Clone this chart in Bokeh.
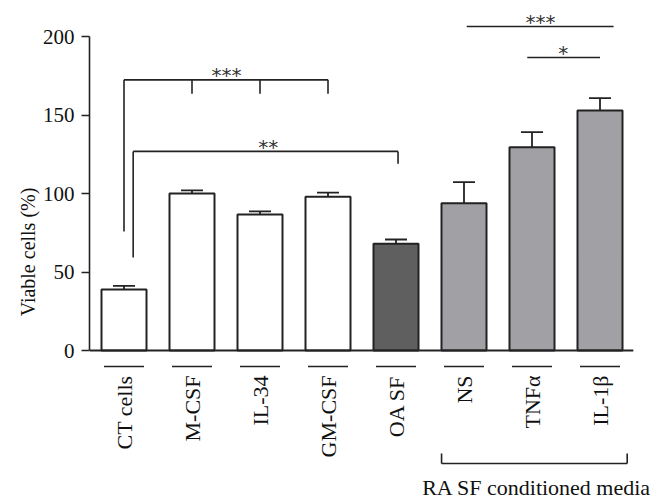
import math
from bokeh.plotting import figure
from bokeh.models import Range1d, FixedTicker, ColumnDataSource
from bokeh.core.properties import value
from bokeh.embed import file_html
from bokeh.resources import INLINE

# ---------------- data ----------------
categories = ["CT cells", "M-CSF", "IL-34", "GM-CSF", "OA SF", "NS", "TNFα", "IL-1β"]
viability = [38.9, 100.0, 86.6, 98.0, 68.0, 93.8, 129.5, 152.9]
sem = [2.3, 2.0, 2.0, 2.5, 2.7, 13.4, 9.6, 7.8]
groups = ["control", "cytokine", "cytokine", "cytokine", "OA", "RA", "RA", "RA"]
y_ticks = [0, 50, 100, 150, 200]
group_label = "RA SF conditioned media"

# significance annotations
sig_labels = ["***", "**", "***", "*"]

# ---------------- styling ----------------
SERIF = "Liberation Serif"
INK = "#222222"
group_colors = {"control": "#ffffff", "cytokine": "#ffffff", "OA": "#5f5f5f", "RA": "#a1a0a5"}

PX_PER_CAT = 68.0
PX_PER_UNIT = 1.57
W, H = 660, 503
FRAME_LEFT = 89
X0_PX = 123.5   # pixel of first category centre
Y0_PX = 350.0   # pixel of value 0

x_idx = list(range(len(categories)))
bar_w = 45 / PX_PER_CAT
cap = 11 / PX_PER_CAT

p = figure(width=W, height=H, output_backend="svg", toolbar_location=None,
           x_range=Range1d((FRAME_LEFT - X0_PX) / PX_PER_CAT, (W - X0_PX) / PX_PER_CAT),
           y_range=Range1d((Y0_PX - H) / PX_PER_UNIT, Y0_PX / PX_PER_UNIT),
           x_axis_location=None, min_border_left=FRAME_LEFT, min_border_right=0,
           min_border_top=0, min_border_bottom=0)
p.outline_line_color = None
p.xgrid.visible = False
p.ygrid.visible = False
p.background_fill_color = "white"
p.border_fill_color = "white"

ax = p.yaxis[0]
ax.ticker = FixedTicker(ticks=y_ticks)
ax.bounds = (0, 200)
ax.axis_line_color = INK
ax.axis_line_width = 1.6
ax.major_tick_line_color = INK
ax.major_tick_line_width = 1.6
ax.major_tick_out = 8
ax.major_tick_in = 0
ax.minor_tick_line_color = None
ax.major_label_text_font = SERIF
ax.major_label_text_font_size = "21px"
ax.major_label_text_color = "#111111"
ax.major_label_standoff = 7
ax.axis_label = "Viable cells (%)"
ax.axis_label_text_font = SERIF
ax.axis_label_text_font_size = "20px"
ax.axis_label_text_font_style = "normal"
ax.axis_label_text_color = "#111111"
ax.axis_label_standoff = 1

src = ColumnDataSource(dict(
    x=x_idx, top=viability, err_top=[v + e for v, e in zip(viability, sem)],
    color=[group_colors[g] for g in groups], label=categories,
    cl=[i - cap for i in x_idx], cr=[i + cap for i in x_idx],
))

# error bars (upper only)
p.segment(x0="x", y0="top", x1="x", y1="err_top", source=src, line_color=INK, line_width=1.8)
p.segment(x0="cl", y0="err_top", x1="cr", y1="err_top", source=src, line_color=INK, line_width=1.8)
# bars
p.vbar(x="x", top="top", bottom=0, width=bar_w, source=src, fill_color="color",
       line_color=INK, line_width=2)
# baseline
p.segment(x0=[(FRAME_LEFT - X0_PX) / PX_PER_CAT], y0=[0], x1=[7.49], y1=[0],
          line_color=INK, line_width=1.8)

# category dashes and labels under the axis
p.segment(x0=[i - 20 / PX_PER_CAT for i in x_idx], y0=[-10.2] * 8,
          x1=[i + 20 / PX_PER_CAT for i in x_idx], y1=[-10.2] * 8,
          line_color=INK, line_width=1.6)
p.text(x="x", y=-15.9, text="label", source=src, angle=math.pi / 2,
       text_align="right", text_baseline="middle", text_font=value(SERIF),
       text_font_size="22px", text_color="#111111")

# significance brackets
seg_x0 = [0, 1, 2, 3, 0, 0.135, 0.135, 4.03, 5.04, 5.93]
seg_y0 = [172.4, 172.4, 172.4, 172.4, 172.4, 126.8, 126.8, 126.8, 206.4, 186.6]
seg_x1 = [3, 1, 2, 3, 0, 4.03, 0.135, 4.03, 7.2, 7.0]
seg_y1 = [172.4, 163.5, 163.5, 163.5, 75.8, 126.8, 59.2, 118.9, 206.4, 186.6]
p.segment(x0=seg_x0, y0=seg_y0, x1=seg_x1, y1=seg_y1, line_color=INK, line_width=1.6)

p.text(x=[1.507, 2.12, 6.125, 6.46], y=[175.4, 129.8, 209.4, 189.6], text=sig_labels,
       text_align="center", text_baseline="alphabetic", text_font=value("DejaVu Sans"),
       text_font_size="20px", text_color="#333333")

# group bracket below
p.segment(x0=[4.67, 4.67, 7.40], y0=[-72, -72, -72], x1=[7.40, 4.67, 7.40], y1=[-72, -65.6, -65.6],
          line_color=INK, line_width=1.6)
p.text(x=[6.07], y=[-87.5], text=[group_label], text_align="center", text_baseline="alphabetic",
       text_font=value(SERIF), text_font_size="22px", text_color="#111111")

open("out.html", "w").write(file_html(p, INLINE))
